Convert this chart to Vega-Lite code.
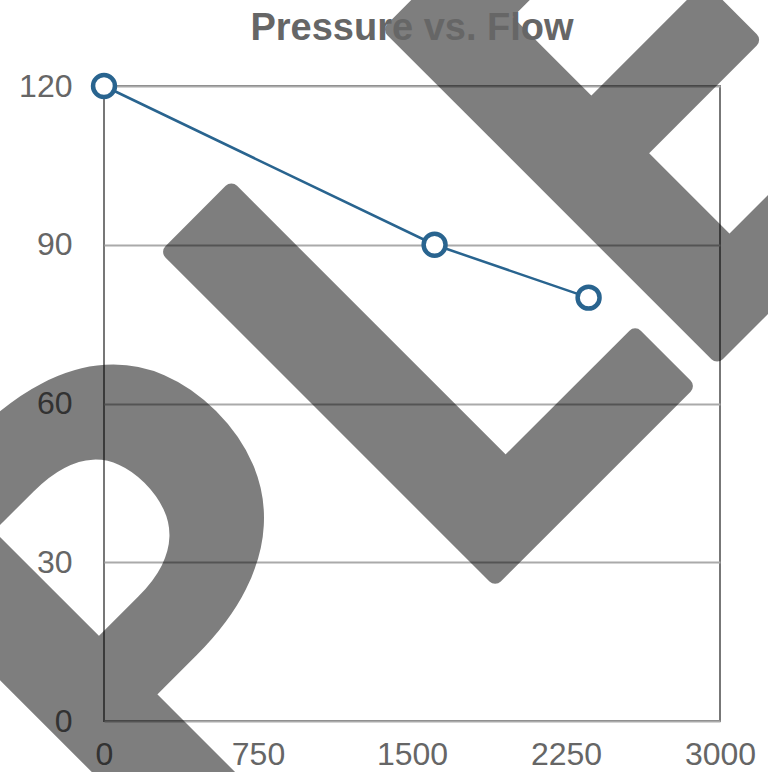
{
  "$schema": "https://vega.github.io/schema/vega-lite/v6.json",
  "width": 616,
  "height": 635,
  "autosize": {"type": "none"},
  "padding": {"left": 104, "top": 86, "right": 48, "bottom": 51},
  "background": "white",
  "view": {"stroke": "#777777", "strokeWidth": 2},
  "title": {
    "text": "Pressure vs. Flow",
    "font": "Liberation Sans",
    "fontSize": 38,
    "fontWeight": "bold",
    "color": "#666666",
    "anchor": "middle",
    "frame": "group",
    "baseline": "alphabetic",
    "offset": -305,
    "zindex": -1
  },
  "datasets": {
    "series": [
      {"flow": 0, "pressure": 120},
      {"flow": 1610, "pressure": 90},
      {"flow": 2360, "pressure": 80}
    ],
    "watermark": [
      {"label": "P", "flow": 291, "pressure": -34.75},
      {"label": "L", "flow": 1729, "pressure": 20.6},
      {"label": "E", "flow": 2810, "pressure": 62.6}
    ],
    "watermarkStart": [
      {"label": "SAM", "flow": 291, "pressure": -34.75}
    ]
  },
  "layer": [
    {
      "data": {"name": "series"},
      "mark": {"type": "line", "color": "#29648f", "strokeWidth": 2.5},
      "encoding": {
        "x": {
          "field": "flow", "type": "quantitative",
          "scale": {"domain": [0, 3000], "nice": false, "zero": false},
          "axis": {
            "title": null, "values": [0, 750, 1500, 2250, 3000], "format": "d",
            "grid": false, "domain": false, "ticks": false,
            "labelFont": "Liberation Sans", "labelFontSize": 32,
            "labelColor": "#666666", "labelPadding": 18,
            "labelBaseline": "top", "labelFlush": false, "labelOverlap": false
          }
        },
        "y": {
          "field": "pressure", "type": "quantitative",
          "scale": {"domain": [0, 120], "nice": false, "zero": false},
          "axis": {
            "title": null, "values": [0, 30, 60, 90, 120], "format": "d",
            "grid": true, "gridColor": "#aaaaaa", "gridWidth": 2,
            "domain": false, "ticks": false,
            "labelFont": "Liberation Sans", "labelFontSize": 32,
            "labelColor": "#666666", "labelPadding": 32,
            "labelFlush": false, "labelOverlap": false
          }
        }
      }
    },
    {
      "data": {"name": "series"},
      "mark": {"type": "point", "shape": "circle", "filled": true, "fill": "white", "stroke": "#29648f", "strokeWidth": 4.5, "size": 480, "opacity": 1},
      "encoding": {
        "x": {"field": "flow", "type": "quantitative"},
        "y": {"field": "pressure", "type": "quantitative"}
      }
    },
    {
      "data": {"name": "watermarkStart"},
      "mark": {
        "type": "text", "angle": -45, "align": "right", "baseline": "alphabetic",
        "font": "Lato", "fontWeight": "bold", "fontSize": 634,
        "fill": "#000000", "stroke": "#000000", "strokeWidth": 16, "strokeJoin": "round",
        "opacity": 0.5
      },
      "encoding": {
        "x": {"field": "flow", "type": "quantitative"},
        "y": {"field": "pressure", "type": "quantitative"},
        "text": {"field": "label"}
      }
    },
    {
      "data": {"name": "watermark"},
      "mark": {
        "type": "text", "angle": -45, "align": "left", "baseline": "alphabetic",
        "font": "Lato", "fontWeight": "bold", "fontSize": 634,
        "fill": "#000000", "stroke": "#000000", "strokeWidth": 16, "strokeJoin": "round",
        "opacity": 0.5
      },
      "encoding": {
        "x": {"field": "flow", "type": "quantitative"},
        "y": {"field": "pressure", "type": "quantitative"},
        "text": {"field": "label"}
      }
    }
  ]
}
